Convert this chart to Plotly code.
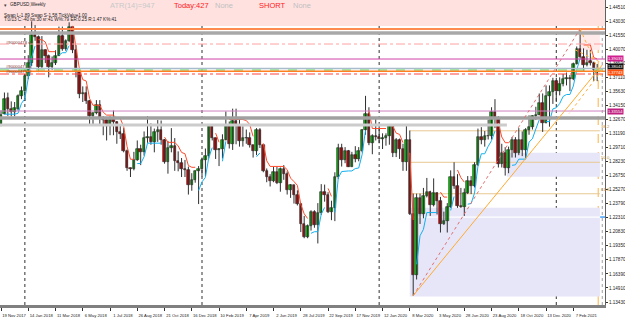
import plotly.graph_objects as go
import pandas as pd

# ---------------- data ----------------
FIRST_WEEK = "2017-11-19"
OPEN = [1.3216,1.3320,1.3490,1.3380,1.3350,1.3380,1.3510,1.3570,1.3725,1.3860,
        1.4155,1.4140,1.3820,1.4000,1.3930,1.3820,1.3865,1.3935,1.4145,1.4010,
        1.4090,1.4240,1.3995,1.3780,1.3530,1.3540,1.3460,1.3300,1.3330,1.3415,
        1.3270,1.3265,1.3200,1.3280,1.3235,1.3135,1.3110,1.2935,1.2750,1.2740,
        1.2840,1.2955,1.2920,1.3070,1.3080,1.3030,1.3130,1.3150,1.3045,1.2815,
        1.2965,1.2990,1.2830,1.2805,1.2740,1.2735,1.2580,1.2630,1.2720,1.2745,
        1.2840,1.2885,1.3200,1.3075,1.2940,1.2950,1.3045,1.3195,1.3005,1.3250,
        1.3210,1.3035,1.3075,1.3070,1.3000,1.2935,1.3150,1.3000,1.2720,1.2655,
        1.2620,1.2715,1.2595,1.2745,1.2695,1.2525,1.2575,1.2475,1.2375,1.2165,
        1.2030,1.2140,1.2290,1.2155,1.2285,1.2505,1.2470,1.2290,1.2335,1.2665,
        1.2970,1.2835,1.2935,1.2770,1.2895,1.2845,1.2930,1.3150,1.3325,1.3015,
        1.3095,1.3085,1.3065,1.3075,1.3090,1.3195,1.2910,1.3050,1.2960,1.2820,
        1.3050,1.2275,1.1630,1.2440,1.2270,1.2455,1.2505,1.2370,1.2490,1.2410,
        1.2165,1.2200,1.2345,1.2665,1.2565,1.2350,1.2340,1.2490,1.2615,1.2570,
        1.2790,1.3085,1.3055,1.3090,1.3090,1.3350,1.3285,1.2795,1.2910,1.2750,
        1.2945,1.3050,1.2915,1.3055,1.2945,1.3150,1.3190,1.3305,1.3310,1.3435,
        1.3225,1.3510,1.3555,1.3670,1.3565,1.3635,1.3690,1.3705,1.3695,1.3850,
        1.4010,1.3920,1.3840,1.3880,1.3860,1.3760]
HIGH = [1.3362,1.3550,1.3549,1.3457,1.3450,1.3530,1.3613,1.3743,1.3943,1.4300,
        1.4260,1.4150,1.4145,1.4005,1.3950,1.3930,1.3995,1.4245,1.4245,1.4110,
        1.4290,1.4250,1.4050,1.3800,1.3615,1.3615,1.3470,1.3340,1.3470,1.3470,
        1.3300,1.3290,1.3300,1.3360,1.3250,1.3215,1.3175,1.2950,1.2760,1.2925,
        1.3045,1.3000,1.3140,1.3300,1.3225,1.3170,1.3260,1.3255,1.3060,1.3040,
        1.3175,1.3070,1.2930,1.2860,1.2840,1.2770,1.2700,1.2730,1.2775,1.2865,
        1.2960,1.3215,1.3215,1.3075,1.2965,1.3110,1.3350,1.3245,1.3380,1.3380,
        1.3260,1.3195,1.3160,1.3130,1.3000,1.3175,1.3175,1.3000,1.2750,1.2690,
        1.2765,1.2765,1.2760,1.2785,1.2720,1.2585,1.2575,1.2520,1.2385,1.2250,
        1.2160,1.2310,1.2310,1.2385,1.2585,1.2580,1.2500,1.2410,1.2710,1.3010,
        1.3010,1.2975,1.2945,1.2925,1.2985,1.2975,1.3165,1.3515,1.3395,1.3110,
        1.3285,1.3215,1.3120,1.3120,1.3210,1.3210,1.3070,1.3065,1.3010,1.3200,
        1.3150,1.2485,1.2485,1.2485,1.2545,1.2650,1.2515,1.2645,1.2500,1.2450,
        1.2295,1.2385,1.2730,1.2815,1.2690,1.2545,1.2540,1.2670,1.2670,1.2815,
        1.3170,1.3185,1.3145,1.3265,1.3395,1.3480,1.3300,1.3010,1.2975,1.2980,
        1.3080,1.3080,1.3175,1.3140,1.3175,1.3310,1.3310,1.3400,1.3540,1.3540,
        1.3625,1.3625,1.3705,1.3705,1.3710,1.3745,1.3760,1.3735,1.3865,1.4035,
        1.4220,1.4015,1.4000,1.4000,1.3875,1.3850]
LOW = [1.3195,1.3320,1.3304,1.3300,1.3300,1.3360,1.3480,1.3460,1.3690,1.3830,
       1.4095,1.3765,1.3810,1.3860,1.3710,1.3790,1.3840,1.3935,1.3990,1.3990,
       1.4080,1.3965,1.3710,1.3490,1.3450,1.3430,1.3200,1.3200,1.3320,1.3205,
       1.3100,1.3045,1.3100,1.3100,1.3010,1.3060,1.2920,1.2725,1.2660,1.2730,
       1.2830,1.2785,1.2885,1.3020,1.3000,1.2920,1.3030,1.3000,1.2800,1.2695,
       1.2920,1.2725,1.2720,1.2660,1.2660,1.2475,1.2515,1.2600,1.2375,1.2665,
       1.2670,1.2855,1.3045,1.2850,1.2775,1.2855,1.3045,1.2960,1.2945,1.3005,
       1.2980,1.2980,1.3010,1.2970,1.2865,1.2890,1.2965,1.2710,1.2605,1.2560,
       1.2605,1.2585,1.2505,1.2630,1.2475,1.2440,1.2380,1.2360,1.2080,1.2015,
       1.2015,1.2095,1.2125,1.1960,1.2260,1.2400,1.2280,1.2205,1.2195,1.2640,
       1.2770,1.2805,1.2765,1.2770,1.2815,1.2825,1.2920,1.3105,1.2995,1.2900,
       1.3045,1.3015,1.2955,1.2990,1.3000,1.2870,1.2870,1.2850,1.2725,1.2725,
       1.2260,1.1410,1.1580,1.2165,1.2225,1.2445,1.2250,1.2350,1.2265,1.2075,
       1.2155,1.2075,1.2335,1.2535,1.2335,1.2335,1.2250,1.2480,1.2480,1.2550,
       1.2775,1.3005,1.2980,1.3055,1.3055,1.3175,1.2760,1.2760,1.2675,1.2700,
       1.2865,1.2865,1.2890,1.2880,1.2855,1.3105,1.3160,1.3260,1.3310,1.3135,
       1.3225,1.3190,1.3430,1.3450,1.3520,1.3615,1.3625,1.3565,1.3680,1.3845,
       1.3910,1.3775,1.3825,1.3835,1.3670,1.3670]
CLOSE = [1.3315,1.3485,1.3380,1.3348,1.3383,1.3510,1.3568,1.3723,1.3860,1.4155,
         1.4140,1.3820,1.4000,1.3930,1.3820,1.3865,1.3935,1.4145,1.4010,1.4090,
         1.4240,1.3995,1.3780,1.3530,1.3540,1.3460,1.3300,1.3330,1.3415,1.3270,
         1.3265,1.3200,1.3280,1.3235,1.3135,1.3110,1.2935,1.2750,1.2740,1.2840,
         1.2955,1.2920,1.3070,1.3080,1.3030,1.3130,1.3150,1.3045,1.2815,1.2965,
         1.2990,1.2830,1.2805,1.2740,1.2735,1.2580,1.2630,1.2720,1.2745,1.2840,
         1.2885,1.3200,1.3075,1.2940,1.2950,1.3045,1.3195,1.3005,1.3250,1.3210,
         1.3035,1.3075,1.3070,1.3000,1.2935,1.3150,1.3000,1.2720,1.2655,1.2620,
         1.2715,1.2595,1.2745,1.2695,1.2525,1.2575,1.2475,1.2375,1.2165,1.2030,
         1.2140,1.2290,1.2155,1.2285,1.2505,1.2470,1.2290,1.2335,1.2665,1.2970,
         1.2835,1.2935,1.2770,1.2895,1.2845,1.2930,1.3150,1.3325,1.3015,1.3095,
         1.3085,1.3065,1.3075,1.3090,1.3195,1.2910,1.3050,1.2960,1.2820,1.3050,
         1.2275,1.1630,1.2440,1.2270,1.2455,1.2505,1.2370,1.2490,1.2410,1.2165,
         1.2200,1.2345,1.2665,1.2565,1.2350,1.2340,1.2490,1.2615,1.2570,1.2790,
         1.3085,1.3055,1.3090,1.3090,1.3350,1.3285,1.2795,1.2910,1.2750,1.2945,
         1.3050,1.2915,1.3055,1.2945,1.3150,1.3190,1.3305,1.3310,1.3435,1.3225,
         1.3510,1.3555,1.3670,1.3565,1.3635,1.3690,1.3705,1.3695,1.3850,1.4010,
         1.3920,1.3840,1.3865,1.3860,1.3785,1.3774]

DATE_LABELS = ["19 Nov 2017","14 Jan 2018","11 Mar 2018","6 May 2018","1 Jul 2018",
               "26 Aug 2018","21 Oct 2018","16 Dec 2018","10 Feb 2019","7 Apr 2019",
               "2 Jun 2019","28 Jul 2019","22 Sep 2019","17 Nov 2019","12 Jan 2020",
               "8 Mar 2020","3 May 2020","28 Jun 2020","23 Aug 2020","18 Oct 2020",
               "13 Dec 2020","7 Feb 2021"]
PRICE_TICKS = [1.44510,1.43030,1.41550,1.40070,1.38590,1.37110,1.35630,1.34150,
               1.32670,1.31190,1.29710,1.28230,1.26750,1.25270,1.23790,1.22310,
               1.20830,1.19350,1.17870,1.16390,1.14910,1.13430]

# chart objects (prices)
ZONE_TOP = 1.4251
LEVEL_RES = 1.4220
LEVEL_GRAY1 = 1.4177
LEVEL_SL1 = 1.4061
LEVEL_MAG1 = 1.3903
LEVEL_STEEL = 1.3803
LEVEL_GREEN = 1.3788
LEVEL_PRICE = 1.3774
LEVEL_BID = 1.3826
LEVEL_SL2 = 1.3745
LEVEL_MAG2 = 1.3355
LEVEL_GRAY2 = 1.3281
LEVEL_GRAY3 = 1.3207
LEVEL_WHITE = 1.2238
BOX_UPPER = (148.5, 1.2663, 1.2915)
BOX_LOWER = (120, 1.1400, 1.2336)
BOX_PEAK = (169.6, 1.3999, 1.4220)
FIB_LOW = (121, 1.1410)
FIB_HIGH = (170, 1.4220)
FIB_LEVELS = [38.2, 50.0, 61.8]
TREND_END = (176.5, 1.3840)
FAN_LINES = [((170, 1.4220), (176.5, 1.3695)),
             ((176.5, 1.3790), (166.8, 1.3330)),
             ((168.5, 1.4000), (176.5, 1.3860))]

# ---------------- derived ----------------
n = len(CLOSE)
dates = pd.date_range(FIRST_WEEK, periods=n, freq="7D")
year_breaks = [i for i in range(1, n) if dates[i].year != dates[i - 1].year]

XMIN, XMAX = -0.3, 177.3
YMIN, YMAX = 1.13114, 1.45248

fig = go.Figure()
shapes = []
ann = []

def hline(y, color, width, dash="solid", x0=XMIN, x1=XMAX, layer="above"):
    shapes.append(dict(type="line", xref="x", yref="y", x0=x0, x1=x1, y0=y, y1=y,
                       line=dict(color=color, width=width, dash=dash), layer=layer))

def rect(x0, x1, y0, y1, color, layer="below"):
    shapes.append(dict(type="rect", xref="x", yref="y", x0=x0, x1=x1, y0=y0, y1=y1,
                       fillcolor=color, line=dict(width=0), layer=layer))

# zones
rect(XMIN, XMAX, ZONE_TOP, YMAX, "#ffe2e0")
rect(BOX_PEAK[0], 175.8, BOX_PEAK[1], BOX_PEAK[2], "#ffeaea")
rect(BOX_UPPER[0], 175.8, BOX_UPPER[1], BOX_UPPER[2], "#e6e6f8")
rect(BOX_LOWER[0], 175.8, BOX_LOWER[1], BOX_LOWER[2], "#e6e6f8")
hline(LEVEL_WHITE, "#ffffff", 1.2, x0=BOX_LOWER[0], x1=175.8, layer="below")

# year separators and time lines
for b in year_breaks:
    shapes.append(dict(type="line", xref="x", yref="paper", x0=b, x1=b, y0=0, y1=1,
                       line=dict(color="#303030", width=1, dash="dot"), layer="below"))
shapes.append(dict(type="line", xref="x", yref="paper", x0=175.3, x1=175.3, y0=0, y1=1,
                   line=dict(color="#ffb040", width=1, dash="dash"), layer="below"))
shapes.append(dict(type="line", xref="x", yref="paper", x0=176.5, x1=176.5, y0=0, y1=1,
                   line=dict(color="#a0a0a0", width=1, dash="dot"), layer="below"))

# fibo
fl, fh = FIB_LOW[1], FIB_HIGH[1]
for lv in FIB_LEVELS:
    p = fh - (fh - fl) * lv / 100.0
    hline(p, "#e8c890", 1, x0=FIB_LOW[0] - 1, x1=175.8, layer="below")
    ann.append(dict(x=175.6, y=p, xref="x", yref="y", text=f"{lv:.1f}", showarrow=False,
                    xanchor="left", yanchor="bottom", font=dict(size=4.3, color="#c09040")))

# horizontal levels
hline(LEVEL_RES, "#ff8a50", 2)
hline(LEVEL_GRAY1, "#a8a8a8", 3.5)
hline(LEVEL_SL1, "#ffa0a0", 1, "dashdot")
hline(LEVEL_MAG1, "#d040a8", 1)
hline(LEVEL_STEEL, "#a8bccc", 1.5)
hline(LEVEL_GREEN, "#90e090", 1.5, "dash")
hline(LEVEL_PRICE, "#ff8020", 1.5)
hline(LEVEL_SL2, "#ff4040", 1, "dashdot")
hline(LEVEL_MAG2, "#d080c0", 1)
hline(LEVEL_GRAY2, "#a0a0a0", 3.5)
hline(LEVEL_GRAY3, "#cccccc", 3, x1=BOX_UPPER[0])

# diagonal lines
shapes.append(dict(type="line", xref="x", yref="y", x0=FIB_LOW[0], y0=FIB_LOW[1],
                   x1=FIB_HIGH[0], y1=FIB_HIGH[1], line=dict(color="#e07070", width=1, dash="dot")))
shapes.append(dict(type="line", xref="x", yref="y", x0=FIB_LOW[0], y0=FIB_LOW[1],
                   x1=TREND_END[0], y1=TREND_END[1], line=dict(color="#ffaa30", width=1)))
for (a, b) in FAN_LINES:
    shapes.append(dict(type="line", xref="x", yref="y", x0=a[0], y0=a[1], x1=b[0], y1=b[1],
                       line=dict(color="#ffb040", width=1, dash="dot")))

# ---------------- supertrend-like stop line ----------------
tr = [HIGH[0] - LOW[0]] + [max(HIGH[i] - LOW[i], abs(HIGH[i] - CLOSE[i - 1]),
                               abs(LOW[i] - CLOSE[i - 1])) for i in range(1, n)]
period, mult = 10, 0.65
atr = [tr[0]]
for i in range(1, n):
    atr.append((atr[-1] * (period - 1) + tr[i]) / period)
ub = [0.0] * n
lb = [0.0] * n
trend = [1] * n
for i in range(n):
    hl2 = (HIGH[i] + LOW[i]) / 2
    bu, bl = hl2 + mult * atr[i], hl2 - mult * atr[i]
    if i == 0:
        ub[i], lb[i], trend[i] = bu, bl, -1
        continue
    ub[i] = bu if (bu < ub[i - 1] or CLOSE[i - 1] > ub[i - 1]) else ub[i - 1]
    lb[i] = bl if (bl > lb[i - 1] or CLOSE[i - 1] < lb[i - 1]) else lb[i - 1]
    if trend[i - 1] == -1 and CLOSE[i] > ub[i]:
        trend[i] = 1
    elif trend[i - 1] == 1 and CLOSE[i] < lb[i]:
        trend[i] = -1
    else:
        trend[i] = trend[i - 1]
rx, ry, bx, by = [], [], [], []
for i in range(n):
    if trend[i] == -1:
        rx.append(i); ry.append(ub[i])
        bx.append(None); by.append(None)
    else:
        bx.append(i); by.append(lb[i])
        rx.append(None); ry.append(None)

# ---------------- traces ----------------
wx, wy = [], []
for i in range(n):
    wx += [i, i, None]
    wy += [LOW[i], HIGH[i], None]
fig.add_trace(go.Scatter(x=wx, y=wy, mode="lines", line=dict(color="#303030", width=1),
                         hoverinfo="skip", showlegend=False))
up = [i for i in range(n) if CLOSE[i] >= OPEN[i]]
dn = [i for i in range(n) if CLOSE[i] < OPEN[i]]
fig.add_trace(go.Bar(x=up, base=[OPEN[i] for i in up], y=[CLOSE[i] - OPEN[i] for i in up],
                     width=0.72, marker=dict(color="#00cc00", line=dict(color="#1a1a1a", width=0.6)),
                     showlegend=False))
fig.add_trace(go.Bar(x=dn, base=[CLOSE[i] for i in dn], y=[OPEN[i] - CLOSE[i] for i in dn],
                     width=0.72, marker=dict(color="#d40000", line=dict(color="#1a1a1a", width=0.6)),
                     showlegend=False))
fig.add_trace(go.Scatter(x=rx, y=ry, mode="lines", line=dict(color="#ff4a2a", width=1),
                         connectgaps=False, showlegend=False))
fig.add_trace(go.Scatter(x=bx, y=by, mode="lines", line=dict(color="#10b0f0", width=1),
                         connectgaps=False, showlegend=False))

# ---------------- texts ----------------
W, H = 605.0, 305.0
def ptxt(px, py, text, size, color, anchor="left"):
    ann.append(dict(x=px / W, y=1 - py / H, xref="paper", yref="paper", text=text,
                    showarrow=False, xanchor=anchor, yanchor="middle",
                    font=dict(size=size, color=color, family="Liberation Sans")))

ptxt(2, 4.5, "▾", 5, "#404040")
ptxt(8, 4.5, "GBPUSD,Weekly", 4.6, "#202020")
ptxt(2, 15, "Swap L-1.89 Swap S-1.58 TickValue1.00", 4.6, "#202020")
ptxt(2, 20, "T:0/13 C:-40 bs:30 sr:41 W%:79 ER:0.25 R:1.47 K%:41", 4.6, "#202020")
ptxt(108, 5.5, "ATR(14)=947", 7.5, "#c8c8c8")
ptxt(172, 5.5, "Today:427", 7.5, "#ff2020")
ptxt(213, 5.5, "None", 7.5, "#c0c0c0")
ptxt(257, 5.5, "SHORT", 7.5, "#ff2020")
ptxt(291, 5.5, "None", 7.5, "#c0c0c0")
ptxt(4, 42, "#90000478 sl", 4.2, "#803030")
ptxt(4, 67, "#90000475 tp", 4.2, "#803030")
ptxt(4, 71, "#90000475 sl", 4.2, "#803030")

def tag(price, text, bg):
    ann.append(dict(x=1.004, y=price, xref="paper", yref="y", text=text, showarrow=False,
                    xanchor="left", yanchor="middle", bgcolor=bg, borderpad=0,
                    font=dict(size=4.0, color="#ffffff", family="Liberation Sans")))

tag(LEVEL_MAG1 + 0.0005, "1.39033", "#d02090")
tag(LEVEL_BID, "1.38043", "#101010")
tag(LEVEL_PRICE - 0.0012, "1.37743", "#ff5010")
tag(LEVEL_MAG2, "1.33554", "#c02080")
shapes.append(dict(type="line", xref="paper", yref="y", x0=0.992, x1=1.0,
                   y0=LEVEL_WHITE, y1=LEVEL_WHITE, line=dict(color="#40a0ff", width=1.5)))

fig.update_layout(
    width=625, height=318, margin=dict(l=0, r=20, t=0, b=13, autoexpand=False),
    paper_bgcolor="#ffffff", plot_bgcolor="#ffffff",
    barmode="overlay", bargap=0, shapes=shapes, annotations=ann,
    font=dict(family="Liberation Sans", size=5, color="#202020"),
    xaxis=dict(range=[XMIN, XMAX], showgrid=False, zeroline=False, automargin=False,
               tickvals=list(range(0, n, 8)), ticktext=DATE_LABELS, tickangle=0,
               tickfont=dict(size=4.2, color="#202020"), ticks="outside", ticklen=3,
               tickcolor="#303030", ticklabelshift=13, ticklabelstandoff=1,
               showline=True, linecolor="#808080", linewidth=3),
    yaxis=dict(range=[YMIN, YMAX], side="right", showgrid=False, zeroline=False, automargin=False,
               tickvals=PRICE_TICKS, tickformat=".5f", tickfont=dict(size=4.6, color="#202020"),
               ticks="outside", ticklen=2, tickcolor="#303030",
               showline=True, linecolor="#606060", linewidth=1),
)

fig.write_html("out.html")
